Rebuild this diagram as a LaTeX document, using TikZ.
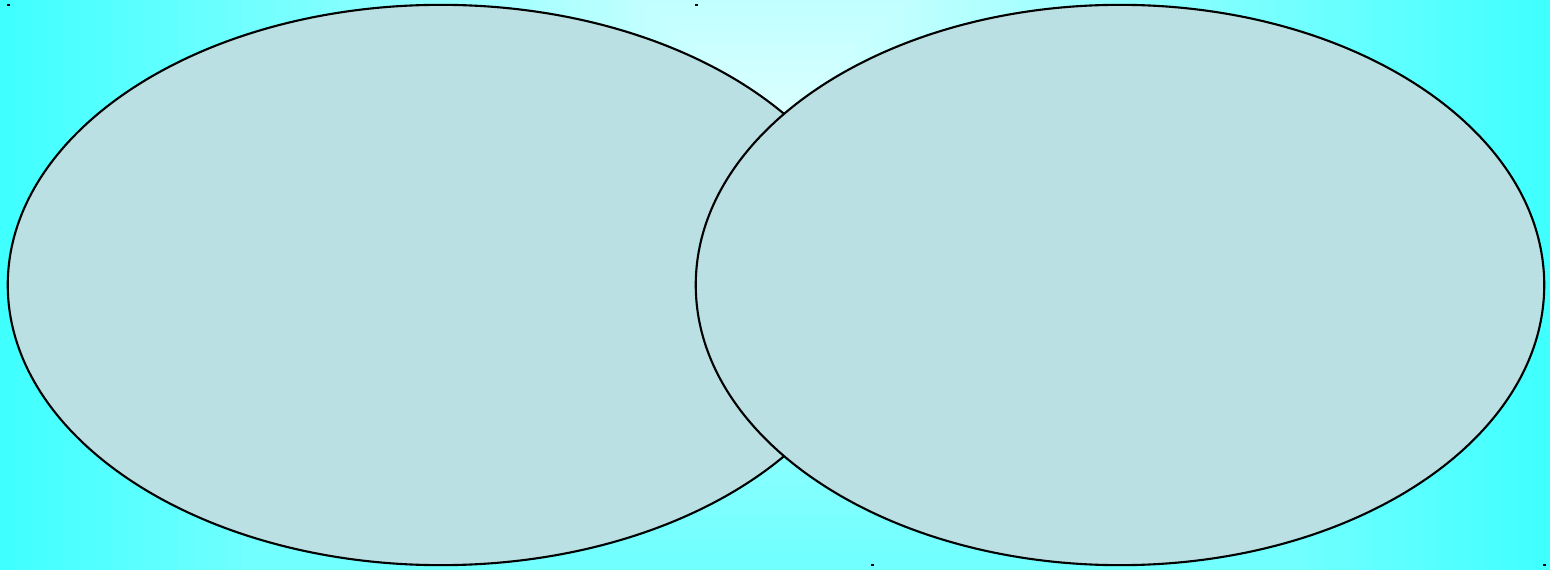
\documentclass[tikz,border=0pt]{standalone}
\usetikzlibrary{shapes.geometric}
\definecolor{bgin}{RGB}{220,255,255}
\definecolor{bgout}{RGB}{64,255,255}
\definecolor{setfill}{RGB}{186,224,227}
\tikzset{
  setoval/.style={
    ellipse,
    draw,
    fill=setfill,
    line width=0.6pt,
    inner sep=0pt,
    outer sep=0pt,
    minimum height=5.6cm
  },
  bbmark/.style={fill=black}
}

\begin{document}
\begin{tikzpicture}[x=0.01cm,y=-0.01cm]
      \useasboundingbox (0,0) rectangle (1550,570);
      % background shading, from the outside in
      \begin{scope}
        \clip (0,0) rectangle (1550,570);
        \foreach \i in {0,...,48}{
          \pgfmathsetmacro{\t}{1-\i/48}
          \pgfmathsetmacro{\mix}{100*\i/48}
          \fill[bgin!\mix!bgout] ({775-775*\t},{113-663*\t}) rectangle ({775+775*\t},{113+663*\t});
        }
      \end{scope}
      % the two sets
      \node[setoval,minimum width=8.66cm] (left) at (441,285) {};
      \node[setoval,minimum width=8.48cm] (right) at (1120,285) {};
      % corner marks
      \fill[bbmark] (7,4) rectangle (10,6);
      \fill[bbmark] (871,564) rectangle (874,566);
      \fill[bbmark] (695,4) rectangle (698,6);
      \fill[bbmark] (1543,564) rectangle (1546,566);
    \end{tikzpicture}
\end{document}
